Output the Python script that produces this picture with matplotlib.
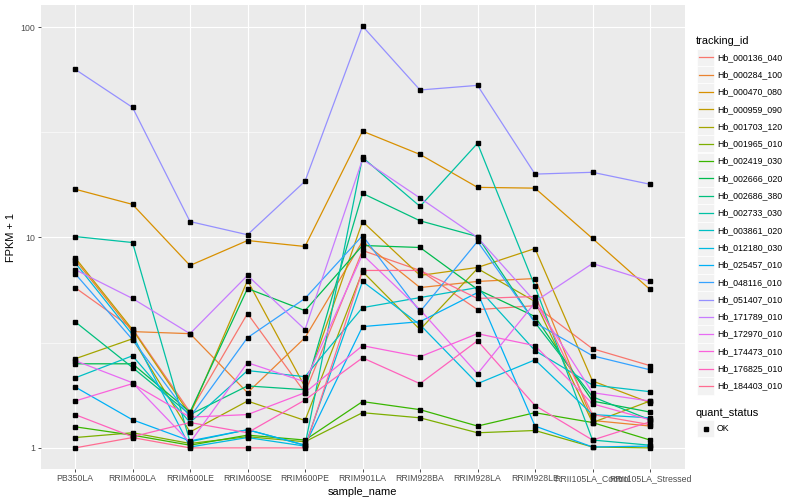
import matplotlib
matplotlib.use("Agg")
import matplotlib.pyplot as plt
import numpy as np
from matplotlib.lines import Line2D
from matplotlib.patches import Rectangle

# ---- data (FPKM + 1) ----
sample_names = ["PB350LA", "RRIM600LA", "RRIM600LE", "RRIM600SE", "RRIM600PE",
                "RRIM901LA", "RRIM928BA", "RRIM928LA", "RRIM928LE",
                "RRII105LA_Control", "RRII105LA_Stressed"]

tracking_ids = ["Hb_000136_040", "Hb_000284_100", "Hb_000470_080", "Hb_000959_090",
                "Hb_001703_120", "Hb_001965_010", "Hb_002419_030", "Hb_002666_020",
                "Hb_002686_380", "Hb_002733_030", "Hb_003861_020", "Hb_012180_030",
                "Hb_025457_010", "Hb_048116_010", "Hb_051407_010", "Hb_171789_010",
                "Hb_172970_010", "Hb_174473_010", "Hb_176825_010", "Hb_184403_010"]

hb_000136_040 = [5.78, 3.69, 1.48, 4.35, 1.83, 8.67, 6.97, 4.54, 4.74, 2.96, 2.46]
hb_000284_100 = [7.85, 3.57, 3.49, 1.83, 3.34, 9.57, 5.78, 6.18, 6.38, 1.35, 1.27]
hb_000470_080 = [16.96, 14.36, 7.36, 9.67, 9.06, 32.0, 24.8, 17.3, 17.15, 9.89, 5.66]
hb_000959_090 = [8.03, 3.65, 1.44, 6.24, 1.95, 11.9, 6.60, 7.20, 8.86, 2.08, 1.64]
hb_001703_120 = [2.65, 3.30, 1.19, 1.67, 1.35, 6.89, 3.65, 7.12, 4.96, 1.32, 1.67]
hb_001965_010 = [1.12, 1.18, 1.05, 1.13, 1.07, 1.47, 1.39, 1.18, 1.21, 1.01, 1.00]
hb_002419_030 = [1.26, 1.15, 1.03, 1.15, 1.09, 1.66, 1.52, 1.27, 1.47, 1.32, 1.09]
hb_002666_020 = [2.51, 2.51, 1.48, 5.72, 4.49, 9.16, 8.96, 5.66, 4.21, 1.67, 1.48]
hb_002686_380 = [3.98, 2.41, 1.44, 1.97, 1.89, 16.2, 12.0, 10.1, 3.94, 1.75, 1.36]
hb_002733_030 = [10.1, 9.46, 1.07, 1.22, 1.03, 24.0, 14.05, 28.0, 5.85, 1.09, 1.03]
hb_003861_020 = [2.15, 2.74, 1.32, 2.33, 2.18, 4.64, 5.18, 5.78, 2.90, 1.99, 1.85]
hb_012180_030 = [7.60, 3.45, 1.01, 1.12, 1.02, 6.18, 3.85, 2.02, 2.62, 1.44, 1.39]
hb_025457_010 = [1.95, 1.36, 1.08, 1.22, 1.03, 3.77, 3.98, 5.47, 1.27, 1.01, 1.02]
hb_048116_010 = [6.74, 3.27, 1.40, 3.34, 5.13, 10.2, 4.44, 9.57, 3.94, 2.74, 2.35]
hb_051407_010 = [63.0, 41.5, 11.9, 10.3, 18.5, 101.0, 50.2, 52.8, 20.0, 20.4, 17.9]
hb_171789_010 = [7.04, 5.13, 3.49, 6.60, 3.65, 23.5, 15.4, 10.0, 4.96, 7.52, 6.18]
hb_172970_010 = [2.60, 2.04, 1.06, 2.54, 2.06, 8.29, 4.54, 2.25, 4.90, 1.83, 1.67]
hb_174473_010 = [1.67, 2.02, 1.40, 1.44, 1.83, 3.06, 2.71, 3.49, 3.06, 1.62, 1.36]
hb_176825_010 = [1.44, 1.13, 1.32, 1.18, 1.69, 2.68, 2.02, 3.23, 1.59, 1.09, 1.33]
hb_184403_010 = [1.00, 1.12, 1.00, 1.00, 1.00, 6.97, 6.97, 5.13, 5.24, 1.44, 1.29]

series = [hb_000136_040, hb_000284_100, hb_000470_080, hb_000959_090, hb_001703_120,
          hb_001965_010, hb_002419_030, hb_002666_020, hb_002686_380, hb_002733_030,
          hb_003861_020, hb_012180_030, hb_025457_010, hb_048116_010, hb_051407_010,
          hb_171789_010, hb_172970_010, hb_174473_010, hb_176825_010, hb_184403_010]

quant_status = ["OK"]

# ggplot2 hue palette, 20 levels
colors = ["#F8766D", "#EA8331", "#D89000", "#C09B00", "#A3A500", "#7CAE00", "#39B600",
          "#00BB4E", "#00BF7D", "#00C1A3", "#00BFC4", "#00BAE0", "#00B0F6", "#35A2FF",
          "#9590FF", "#C77CFF", "#E76BF3", "#FA62DB", "#FF62BC", "#FF6C91"]

# ---- figure ----
plt.rcParams["font.family"] = ["Liberation Sans", "DejaVu Sans"]
W, H = 800, 500
fig = plt.figure(figsize=(W / 100, H / 100), dpi=100)
ax = fig.add_axes([40.5 / W, 1 - 469 / H, (684.5 - 40.5) / W, (469 - 5) / H])
ax.set_facecolor("#EBEBEB")
for s in ax.spines.values():
    s.set_visible(False)

x = np.arange(len(sample_names))
for vals, col in zip(series, colors):
    ax.plot(x, vals, color=col, lw=0.9, zorder=3)
for vals in series:
    ax.plot(x, vals, ls="none", marker="s", ms=2.3, color="black", zorder=4)

ax.set_yscale("log")
all_vals = np.concatenate([np.asarray(v) for v in series])
lo, hi = np.log10(all_vals.min()), np.log10(all_vals.max())
pad = 0.05 * (hi - lo)
ax.set_ylim(10 ** (lo - pad), 10 ** (hi + pad))
ax.set_xlim(-0.6, len(sample_names) - 1 + 0.6)

ax.set_yticks([1, 10, 100])
ax.set_yticklabels(["1", "10", "100"])
ax.set_yticks([10 ** 0.5, 10 ** 1.5], minor=True)
ax.set_xticks(x)
ax.set_xticklabels(sample_names)
ax.tick_params(axis="both", which="major", length=2.2, width=0.6, color="#333333",
               labelsize=6.3, labelcolor="#4D4D4D", pad=1.6)
ax.tick_params(axis="y", which="minor", length=0)
ax.grid(True, which="major", color="white", lw=0.8, zorder=0)
ax.grid(True, which="minor", axis="y", color="white", lw=0.4, zorder=0)
ax.set_axisbelow(True)

ax.set_xlabel("sample_name", fontsize=7.9, labelpad=2.5)
ax.set_ylabel("FPKM + 1", fontsize=7.9, labelpad=3)

# ---- legend (drawn in pixel coordinates like ggplot guide) ----
def fx(px):
    return px / W

def fy(py):
    return 1 - py / H

fig.text(fx(696), fy(40.5), "tracking_id", fontsize=7.9, va="center", ha="left")
key_w, key_h, step = 17.3, 17.3, 17.3
top0 = 48.7
for i, (name, col) in enumerate(zip(tracking_ids, colors)):
    top = top0 + i * step
    fig.patches.append(Rectangle((fx(697), fy(top + key_h)), key_w / W, key_h / H,
                                 transform=fig.transFigure, facecolor="#F2F2F2",
                                 edgecolor="white", lw=0.5))
    cy = top + key_h / 2
    fig.lines.append(Line2D([fx(698.5), fx(712.5)], [fy(cy), fy(cy)],
                            transform=fig.transFigure, color=col, lw=0.9))
    fig.text(fx(717), fy(cy), name, fontsize=6.3, va="center", ha="left")

fig.text(fx(696), fy(412.5), "quant_status", fontsize=7.9, va="center", ha="left")
top = 420
fig.patches.append(Rectangle((fx(697), fy(top + key_h)), key_w / W, key_h / H,
                             transform=fig.transFigure, facecolor="#F2F2F2",
                             edgecolor="white", lw=0.5))
fig.lines.append(Line2D([fx(697 + key_w / 2)], [fy(top + key_h / 2)],
                        transform=fig.transFigure, ls="none", marker="s", ms=2.3,
                        color="black"))
fig.text(fx(717), fy(top + key_h / 2), quant_status[0], fontsize=6.3, va="center",
         ha="left")

fig.savefig("out.png", dpi=100)
